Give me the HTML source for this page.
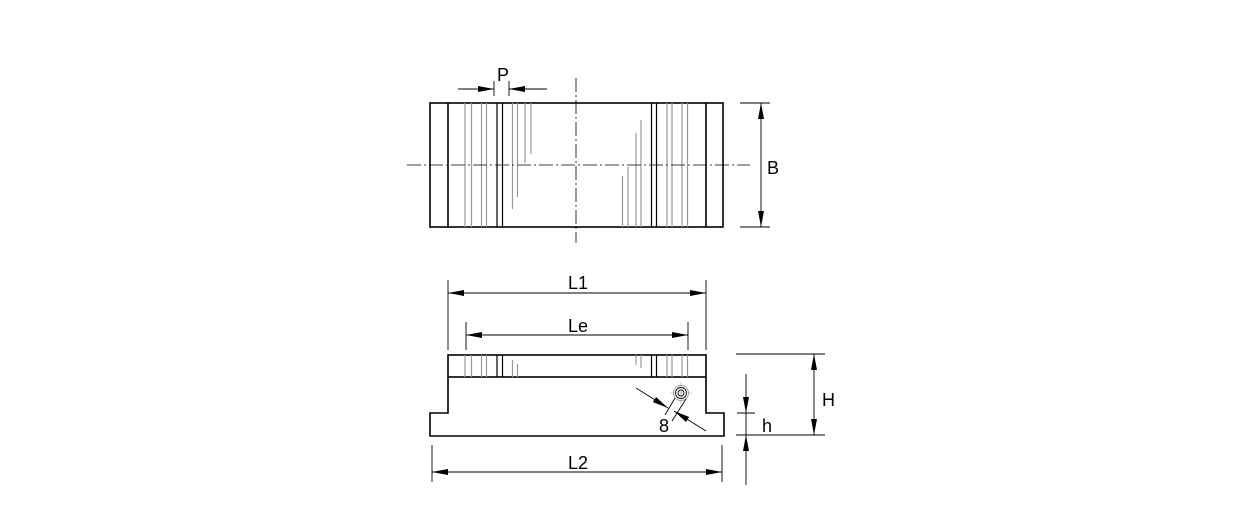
<!DOCTYPE html>
<html><head><style>body{margin:0;background:#fff}svg{display:block}</style></head><body>
<svg width="1240" height="513" viewBox="0 0 1240 513" xmlns="http://www.w3.org/2000/svg" font-family="Liberation Sans Narrow, Liberation Sans, sans-serif" font-size="18">
<defs>
<marker id="a" viewBox="0 0 16 6" refX="16" refY="3" markerWidth="16" markerHeight="6" markerUnits="userSpaceOnUse" orient="auto"><path d="M0,0 L16,3 L0,6 Z" fill="#000"/></marker>
</defs>
<g stroke="#000" stroke-width="1.6" fill="none">
<rect x="430" y="103" width="293" height="124"/>
<line x1="448" y1="103" x2="448" y2="227"/>
<line x1="706" y1="103" x2="706" y2="227"/>
</g>
<g stroke="#999" stroke-width="1.2">
<line x1="465" y1="103" x2="465" y2="227"/><line x1="471.5" y1="103" x2="471.5" y2="227"/>
<line x1="481.5" y1="103" x2="481.5" y2="227"/><line x1="486.5" y1="103" x2="486.5" y2="227"/>
<line x1="512.5" y1="103" x2="512.5" y2="209"/><line x1="517.5" y1="103" x2="517.5" y2="197"/>
<line x1="525" y1="103" x2="525" y2="163"/><line x1="531" y1="103" x2="531" y2="154"/>
<line x1="622.5" y1="176" x2="622.5" y2="227"/><line x1="628" y1="167" x2="628" y2="227"/>
<line x1="636" y1="133" x2="636" y2="227"/><line x1="641" y1="120" x2="641" y2="227"/>
<line x1="667" y1="103" x2="667" y2="227"/><line x1="672" y1="103" x2="672" y2="227"/>
<line x1="682" y1="103" x2="682" y2="227"/><line x1="687.5" y1="103" x2="687.5" y2="227"/>
</g>
<g stroke="#000" stroke-width="1.2">
<line x1="497" y1="103" x2="497" y2="227"/><line x1="502.5" y1="103" x2="502.5" y2="227"/>
<line x1="651.5" y1="103" x2="651.5" y2="227"/><line x1="656.5" y1="103" x2="656.5" y2="227"/>
</g>
<g stroke="#000" stroke-width="0.8" stroke-dasharray="14,3,2,3">
<line x1="407" y1="165" x2="750" y2="165"/>
<line x1="576" y1="78" x2="576" y2="243"/>
</g>
<g stroke="#000" stroke-width="0.9" fill="none">
<line x1="458" y1="89" x2="494" y2="89" marker-end="url(#a)"/>
<line x1="547" y1="89" x2="509" y2="89" marker-end="url(#a)"/>
<line x1="494" y1="81" x2="494" y2="96"/><line x1="509" y1="81" x2="509" y2="96"/>
<line x1="740" y1="103" x2="770" y2="103"/><line x1="740" y1="227" x2="770" y2="227"/>
<line x1="761" y1="165" x2="761" y2="103" marker-end="url(#a)"/>
<line x1="761" y1="165" x2="761" y2="227" marker-end="url(#a)"/>
</g>
<text x="503" y="81" text-anchor="middle">P</text>
<text x="767" y="174">B</text>
<g stroke="#000" stroke-width="0.9" fill="none">
<line x1="448" y1="280" x2="448" y2="350"/><line x1="706" y1="280" x2="706" y2="350"/>
<line x1="577" y1="293" x2="448" y2="293" marker-end="url(#a)"/>
<line x1="577" y1="293" x2="706" y2="293" marker-end="url(#a)"/>
<line x1="466" y1="322" x2="466" y2="350"/><line x1="688" y1="322" x2="688" y2="350"/>
<line x1="577" y1="335" x2="466" y2="335" marker-end="url(#a)"/>
<line x1="577" y1="335" x2="688" y2="335" marker-end="url(#a)"/>
</g>
<text x="578" y="289" text-anchor="middle">L1</text>
<text x="578" y="332" text-anchor="middle">Le</text>
<g stroke="#000" stroke-width="1.6" fill="none">
<rect x="448" y="355" width="258" height="22"/>
<path d="M448,377 V413 H430 V436 H724 V413 H706 V377"/>
</g>
<g stroke="#999" stroke-width="1.2">
<line x1="465" y1="355" x2="465" y2="377"/><line x1="471.5" y1="355" x2="471.5" y2="377"/>
<line x1="481.5" y1="355" x2="481.5" y2="377"/><line x1="486.5" y1="355" x2="486.5" y2="377"/>
<line x1="512.5" y1="360" x2="512.5" y2="377"/><line x1="517.5" y1="364" x2="517.5" y2="377"/>
<line x1="636" y1="355" x2="636" y2="365"/><line x1="641" y1="355" x2="641" y2="368"/>
<line x1="667" y1="355" x2="667" y2="377"/><line x1="672" y1="355" x2="672" y2="377"/>
<line x1="682" y1="355" x2="682" y2="377"/><line x1="687.5" y1="355" x2="687.5" y2="377"/>
</g>
<g stroke="#000" stroke-width="1.2">
<line x1="497" y1="355" x2="497" y2="377"/><line x1="502.5" y1="355" x2="502.5" y2="377"/>
<line x1="651.5" y1="355" x2="651.5" y2="377"/><line x1="656.5" y1="355" x2="656.5" y2="377"/>
</g>
<g stroke="#000" stroke-width="0.9" fill="none">
<circle cx="681" cy="393" r="7.5" stroke="#999"/>
<circle cx="681" cy="393" r="5.5"/>
<circle cx="681" cy="393" r="3"/>
<line x1="670" y1="393" x2="692" y2="393" stroke="#999" stroke-width="0.6"/>
<line x1="681" y1="382" x2="681" y2="404" stroke="#999" stroke-width="0.6"/>
<line x1="675" y1="398" x2="665" y2="415"/><line x1="686" y1="399" x2="672" y2="421"/>
<line x1="636" y1="388" x2="668" y2="408" marker-end="url(#a)"/>
<line x1="706" y1="431" x2="674" y2="411" marker-end="url(#a)"/>
</g>
<text x="664" y="432" text-anchor="middle">8</text>
<g stroke="#000" stroke-width="0.9" fill="none">
<line x1="736" y1="354" x2="825" y2="354"/><line x1="736" y1="435" x2="825" y2="435"/>
<line x1="737" y1="413" x2="755" y2="413"/>
<line x1="814" y1="395" x2="814" y2="354" marker-end="url(#a)"/>
<line x1="814" y1="395" x2="814" y2="435" marker-end="url(#a)"/>
<line x1="746" y1="374" x2="746" y2="413" marker-end="url(#a)"/>
<line x1="746" y1="485" x2="746" y2="435" marker-end="url(#a)"/>
<line x1="746" y1="413" x2="746" y2="435"/>
<line x1="432" y1="445" x2="432" y2="482"/><line x1="722" y1="445" x2="722" y2="482"/>
<line x1="577" y1="472" x2="432" y2="472" marker-end="url(#a)"/>
<line x1="577" y1="472" x2="722" y2="472" marker-end="url(#a)"/>
</g>
<text x="822" y="406">H</text>
<text x="762" y="432">h</text>
<text x="578" y="469" text-anchor="middle">L2</text>
</svg>
</body></html>
